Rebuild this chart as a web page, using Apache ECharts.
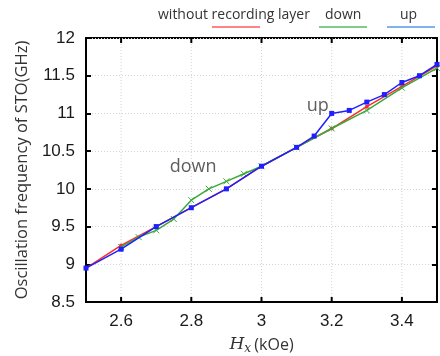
<!DOCTYPE html>
<html><head><meta charset="utf-8">
<script src="https://cdn.jsdelivr.net/npm/echarts@6/dist/echarts.min.js"></script>
<style>html,body{margin:0;padding:0;background:#fff}#c{width:440px;height:356px}</style>
</head><body><div id="c"></div>
<script>
const redX = [2.5, 2.6, 2.7, 2.8, 2.9, 3.0, 3.1, 3.2, 3.3, 3.4, 3.5];
const redY = [8.95, 9.25, 9.5, 9.75, 10.0, 10.3, 10.55, 10.8, 11.09, 11.36, 11.63];
const downX = [2.6, 2.65, 2.7, 2.75, 2.8, 2.85, 2.9, 2.95, 3.0, 3.1, 3.2, 3.3, 3.4, 3.5];
const downY = [9.23, 9.36, 9.45, 9.6, 9.85, 10.0, 10.1, 10.2, 10.3, 10.55, 10.8, 11.04, 11.34, 11.6];
const upX = [2.5, 2.6, 2.7, 2.8, 2.9, 3.0, 3.1, 3.15, 3.2, 3.25, 3.3, 3.35, 3.4, 3.45, 3.5];
const upY = [8.95, 9.2, 9.5, 9.75, 10.0, 10.3, 10.55, 10.7, 11.0, 11.04, 11.15, 11.25, 11.41, 11.5, 11.65];
const xTicks = [2.6, 2.8, 3.0, 3.2, 3.4];
const yTicks = [8.5, 9, 9.5, 10, 10.5, 11, 11.5, 12];
const legendNames = ['without recording layer', 'down', 'up'];
const annotations = [{text: 'down', x: 2.805, y: 10.29}, {text: 'up', x: 3.16, y: 11.1}];

const zip = (a, b) => a.map((v, i) => [v, b[i]]);
const lab = {fontFamily: 'Liberation Sans, Arial', fontSize: 17, color: '#1a1a1a'};
const chart = echarts.init(document.getElementById('c'), null, {renderer: 'canvas'});
const fmtX = v => (xTicks.some(t => Math.abs(t - v) < 1e-6) ? String(+v.toFixed(1)) : '');
const fmtY = v => String(+v.toFixed(1));
const sLine = {color: '#d4d4d4', type: [1, 2], width: 1};
const tick = {show: true, inside: true, length: 5, lineStyle: {color: '#000', width: 2}};

chart.setOption({
  animation: false,
  grid: {left: 86, right: 3, top: 38, bottom: 54, show: true, borderColor: '#000', borderWidth: 2,
         containLabel: false, outerBoundsMode: 'none'},
  xAxis: [{
    type: 'value', min: 2.5, max: 3.5, interval: 0.1,
    axisLine: {show: true, lineStyle: {color: '#000', width: 2}},
    axisTick: {show: false},
    axisLabel: Object.assign({formatter: fmtX, margin: 11, showMinLabel: false, showMaxLabel: false}, lab),
    splitLine: {show: false},
    name: '{i|H}{s|x} {n|(kOe)}', nameLocation: 'middle', nameGap: 33,
    nameTextStyle: {rich: {
      i: {fontFamily: 'DejaVu Serif, serif', fontStyle: 'italic', fontSize: 17, color: '#333'},
      s: {fontFamily: 'DejaVu Serif, serif', fontStyle: 'italic', fontSize: 12, color: '#333', verticalAlign: 'bottom', padding: [8, 0, 0, 0]},
      n: {fontFamily: 'Open Sans', fontSize: 16, color: '#333'}
    }}
  }],
  yAxis: [{
    type: 'value', min: 8.5, max: 12, interval: 0.5,
    axisLine: {show: true, lineStyle: {color: '#000', width: 2}},
    axisTick: tick,
    axisLabel: Object.assign({formatter: fmtY, margin: 11}, lab),
    splitLine: {show: true, lineStyle: sLine},
    name: 'Oscillation frequency of STO(GHz)', nameLocation: 'middle', nameGap: 53,
    nameTextStyle: {fontFamily: 'Open Sans', fontSize: 16.5, color: '#333'}
  }, {
    type: 'value', min: 8.5, max: 12, interval: 0.5, position: 'right',
    axisLine: {show: false}, axisLabel: {show: false},
    axisTick: tick, splitLine: {show: false}
  }],
  series: [
    {type: 'line', name: legendNames[0], data: zip(redX, redY),
     symbol: 'circle', symbolSize: 4, lineStyle: {color: '#ff2a2a', width: 1.5}, itemStyle: {color: '#ff2a2a'}, z: 2},
    {type: 'line', name: legendNames[1], data: zip(downX, downY),
     symbol: 'path://M0,0L10,10M10,0L0,10', symbolSize: 6,
     lineStyle: {color: '#3aa83a', width: 1.5}, itemStyle: {color: '#3aa83a', borderColor: '#3aa83a', borderWidth: 1}, z: 3},
    {type: 'line', name: legendNames[2], data: zip(upX, upY),
     symbol: 'rect', symbolSize: 5, lineStyle: {color: '#1f1fff', width: 1.5}, itemStyle: {color: '#1f1fff'}, z: 4},
    {type: 'scatter', data: annotations.map(a => ({value: [a.x, a.y], name: a.text})), symbolSize: 0,
     label: {show: true, formatter: p => p.name, position: 'inside', fontFamily: 'Open Sans', fontSize: 18, color: '#333'}, silent: true}
  ]
});

// vertical dotted grid lines and ticks at major x ticks, placed through the chart's own scale
const gl = xTicks.map(t => {
  const [px, py1] = chart.convertToPixel({xAxisIndex: 0, yAxisIndex: 0}, [t, 8.5]);
  const [, py0] = chart.convertToPixel({xAxisIndex: 0, yAxisIndex: 0}, [t, 12]);
  return {type: 'line', shape: {x1: px, y1: py0, x2: px, y2: py1}, style: {stroke: '#d4d4d4', lineDash: [1, 2], lineWidth: 1}, z: 0, silent: true};
});
const tk = xTicks.flatMap(t => {
  const [px, py] = chart.convertToPixel({xAxisIndex: 0, yAxisIndex: 0}, [t, 8.5]);
  const [, pt] = chart.convertToPixel({xAxisIndex: 0, yAxisIndex: 0}, [t, 12]);
  return [{type: 'line', shape: {x1: px, y1: py, x2: px, y2: py - 5}, style: {stroke: '#000', lineWidth: 2}, silent: true},
          {type: 'line', shape: {x1: px, y1: pt, x2: px, y2: pt + 5}, style: {stroke: '#000', lineWidth: 2}, silent: true}];
});
const legFont = '14px "Open Sans"';
const legend = [
  {type: 'text', left: 158, top: 8, style: {text: legendNames[0], font: legFont, fill: '#333'}},
  {type: 'line', shape: {x1: 212, y1: 27, x2: 260, y2: 27}, style: {stroke: '#ff5a5a', lineWidth: 1.5}},
  {type: 'text', left: 325, top: 8, style: {text: legendNames[1], font: legFont, fill: '#333'}},
  {type: 'line', shape: {x1: 319, y1: 27, x2: 367, y2: 27}, style: {stroke: '#55bb66', lineWidth: 1.5}},
  {type: 'text', left: 400, top: 8, style: {text: legendNames[2], font: legFont, fill: '#333'}},
  {type: 'line', shape: {x1: 387, y1: 27, x2: 435, y2: 27}, style: {stroke: '#5599ee', lineWidth: 1.5}}
];
chart.setOption({graphic: gl.concat(tk, legend)});
</script></body></html>
